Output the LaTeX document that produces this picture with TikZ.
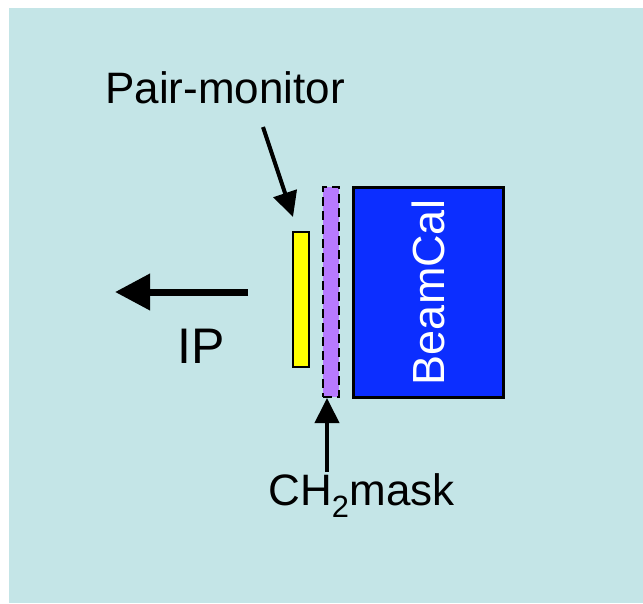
\documentclass[tikz,border=0pt]{standalone}
\usepackage{fontspec}
\setmainfont{Liberation Sans}
\usetikzlibrary{arrows.meta}
\definecolor{bgcyan}{RGB}{196,229,231}
\definecolor{beamblue}{RGB}{12,46,255}
\definecolor{maskpurple}{RGB}{183,122,255}
\definecolor{pmyellow}{RGB}{255,255,0}
\begin{document}
\begin{tikzpicture}[x=1pt,y=-1pt,
  lbl/.style={font=\fontsize{44}{50}\selectfont, inner sep=0pt},
  ptr/.style={line width=4pt, -{Triangle[length=25pt,width=24pt]}},
  box/.style={draw=black, line width=2.5pt, inner sep=0pt}]
\useasboundingbox (0,0) rectangle (643,603);
\fill[bgcyan] (9,8) rectangle (643,603);
% BeamCal
\node[box, fill=beamblue, minimum width=150pt, minimum height=210pt] (beam) at (428.5,292.5) {};
\node[text=white, inner sep=0pt, font=\fontsize{45}{50}\selectfont, rotate=90] (beamtxt) at (beam.center) {BeamCal};
% Pair monitor (yellow)
\node[box, fill=pmyellow, minimum width=16pt, minimum height=135pt] (pm) at (301,299.5) {};
% CH2 mask (purple dashed)
\node[draw=black, line width=2.5pt, dash pattern=on 9pt off 5pt, fill=maskpurple, inner sep=0pt, minimum width=16pt, minimum height=210pt] (mask) at (331,292) {};
% labels
\node[lbl, anchor=base] (pmlabel) at (225,103) {Pair-monitor};
\node[inner sep=0pt, font=\fontsize{50}{56}\selectfont, anchor=base] (iplabel) at (201,363) {IP};
\node[lbl, anchor=base] (masklabel) at (361.5,505) {CH\textsubscript{2}mask};
% arrows
\coordinate (pmstart) at (263,127);
\coordinate (pmtip) at (293,217);
\draw[ptr] (pmstart) -- (pmtip);
\coordinate (maskstart) at (327,472);
\coordinate (masktip) at (327,398);
\draw[ptr] (maskstart) -- (masktip);
\coordinate (ipstart) at (248,292);
\coordinate (iptip) at (115,292);
\draw[line width=7pt, -{Triangle[length=35pt,width=35pt]}] (ipstart) -- (iptip);
\end{tikzpicture}
\end{document}
